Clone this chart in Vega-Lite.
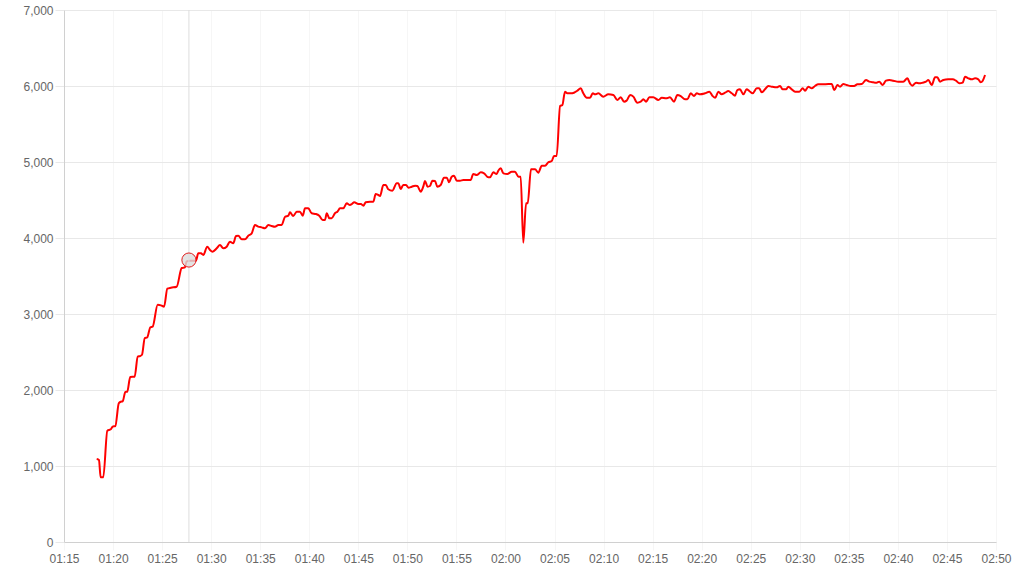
{
  "$schema": "https://vega.github.io/schema/vega-lite/v6.json",
  "width": 932,
  "height": 532,
  "autosize": {"type": "none"},
  "padding": {"left": 64, "top": 10, "right": 19, "bottom": 29},
  "background": "#ffffff",
  "config": {
    "view": {"stroke": null},
    "font": "Liberation Sans",
    "axis": {
      "labelFont": "Liberation Sans",
      "labelFontSize": 12,
      "labelColor": "#666666",
      "gridColor": "#e8e8e8",
      "tickColor": "#e8e8e8",
      "domainColor": "#d0d0d0",
      "title": null
    }
  },
  "datasets": {
    "series": [
      {"t": "2024-01-01T01:18:20", "v": 1092},
      {"t": "2024-01-01T01:18:34", "v": 1079},
      {"t": "2024-01-01T01:18:44", "v": 851},
      {"t": "2024-01-01T01:19:00", "v": 851},
      {"t": "2024-01-01T01:19:25", "v": 1465},
      {"t": "2024-01-01T01:19:46", "v": 1483},
      {"t": "2024-01-01T01:19:58", "v": 1517},
      {"t": "2024-01-01T01:20:14", "v": 1526},
      {"t": "2024-01-01T01:20:35", "v": 1825},
      {"t": "2024-01-01T01:20:47", "v": 1846},
      {"t": "2024-01-01T01:20:59", "v": 1851},
      {"t": "2024-01-01T01:21:15", "v": 1974},
      {"t": "2024-01-01T01:21:27", "v": 1978},
      {"t": "2024-01-01T01:21:45", "v": 2171},
      {"t": "2024-01-01T01:22:12", "v": 2175},
      {"t": "2024-01-01T01:22:31", "v": 2438},
      {"t": "2024-01-01T01:22:45", "v": 2447},
      {"t": "2024-01-01T01:22:57", "v": 2464},
      {"t": "2024-01-01T01:23:14", "v": 2684},
      {"t": "2024-01-01T01:23:29", "v": 2693},
      {"t": "2024-01-01T01:23:48", "v": 2825},
      {"t": "2024-01-01T01:24:02", "v": 2833},
      {"t": "2024-01-01T01:24:33", "v": 3122},
      {"t": "2024-01-01T01:24:53", "v": 3114},
      {"t": "2024-01-01T01:25:12", "v": 3096},
      {"t": "2024-01-01T01:25:32", "v": 3333},
      {"t": "2024-01-01T01:25:54", "v": 3346},
      {"t": "2024-01-01T01:26:29", "v": 3359},
      {"t": "2024-01-01T01:27:00", "v": 3605},
      {"t": "2024-01-01T01:27:20", "v": 3614},
      {"t": "2024-01-01T01:27:30", "v": 3693},
      {"t": "2024-01-01T01:27:51", "v": 3701},
      {"t": "2024-01-01T01:28:27", "v": 3701},
      {"t": "2024-01-01T01:28:41", "v": 3798},
      {"t": "2024-01-01T01:28:58", "v": 3798},
      {"t": "2024-01-01T01:29:12", "v": 3776},
      {"t": "2024-01-01T01:29:36", "v": 3886},
      {"t": "2024-01-01T01:29:53", "v": 3842},
      {"t": "2024-01-01T01:30:09", "v": 3820},
      {"t": "2024-01-01T01:30:34", "v": 3864},
      {"t": "2024-01-01T01:30:54", "v": 3908},
      {"t": "2024-01-01T01:31:14", "v": 3864},
      {"t": "2024-01-01T01:31:35", "v": 3886},
      {"t": "2024-01-01T01:31:55", "v": 3952},
      {"t": "2024-01-01T01:32:15", "v": 3930},
      {"t": "2024-01-01T01:32:32", "v": 4026},
      {"t": "2024-01-01T01:32:46", "v": 4030},
      {"t": "2024-01-01T01:33:07", "v": 3983},
      {"t": "2024-01-01T01:33:27", "v": 3983},
      {"t": "2024-01-01T01:33:47", "v": 4030},
      {"t": "2024-01-01T01:34:08", "v": 4061},
      {"t": "2024-01-01T01:34:28", "v": 4171},
      {"t": "2024-01-01T01:34:48", "v": 4149},
      {"t": "2024-01-01T01:35:09", "v": 4140},
      {"t": "2024-01-01T01:35:29", "v": 4127},
      {"t": "2024-01-01T01:35:50", "v": 4171},
      {"t": "2024-01-01T01:36:10", "v": 4158},
      {"t": "2024-01-01T01:36:30", "v": 4149},
      {"t": "2024-01-01T01:36:51", "v": 4171},
      {"t": "2024-01-01T01:37:11", "v": 4171},
      {"t": "2024-01-01T01:37:32", "v": 4280},
      {"t": "2024-01-01T01:37:52", "v": 4294},
      {"t": "2024-01-01T01:38:02", "v": 4338},
      {"t": "2024-01-01T01:38:22", "v": 4289},
      {"t": "2024-01-01T01:38:43", "v": 4346},
      {"t": "2024-01-01T01:39:03", "v": 4346},
      {"t": "2024-01-01T01:39:20", "v": 4294},
      {"t": "2024-01-01T01:39:34", "v": 4390},
      {"t": "2024-01-01T01:39:54", "v": 4390},
      {"t": "2024-01-01T01:40:15", "v": 4325},
      {"t": "2024-01-01T01:40:41", "v": 4316},
      {"t": "2024-01-01T01:41:01", "v": 4294},
      {"t": "2024-01-01T01:41:22", "v": 4237},
      {"t": "2024-01-01T01:41:36", "v": 4237},
      {"t": "2024-01-01T01:41:47", "v": 4325},
      {"t": "2024-01-01T01:42:03", "v": 4259},
      {"t": "2024-01-01T01:42:17", "v": 4259},
      {"t": "2024-01-01T01:42:37", "v": 4325},
      {"t": "2024-01-01T01:42:52", "v": 4346},
      {"t": "2024-01-01T01:43:08", "v": 4390},
      {"t": "2024-01-01T01:43:28", "v": 4390},
      {"t": "2024-01-01T01:43:49", "v": 4456},
      {"t": "2024-01-01T01:44:09", "v": 4434},
      {"t": "2024-01-01T01:44:20", "v": 4447},
      {"t": "2024-01-01T01:44:35", "v": 4470},
      {"t": "2024-01-01T01:45:00", "v": 4447},
      {"t": "2024-01-01T01:45:16", "v": 4447},
      {"t": "2024-01-01T01:45:31", "v": 4425},
      {"t": "2024-01-01T01:45:45", "v": 4470},
      {"t": "2024-01-01T01:46:11", "v": 4478},
      {"t": "2024-01-01T01:46:32", "v": 4478},
      {"t": "2024-01-01T01:46:46", "v": 4579},
      {"t": "2024-01-01T01:47:02", "v": 4566},
      {"t": "2024-01-01T01:47:13", "v": 4553},
      {"t": "2024-01-01T01:47:33", "v": 4697},
      {"t": "2024-01-01T01:47:48", "v": 4697},
      {"t": "2024-01-01T01:48:03", "v": 4641},
      {"t": "2024-01-01T01:48:28", "v": 4623},
      {"t": "2024-01-01T01:48:55", "v": 4720},
      {"t": "2024-01-01T01:49:05", "v": 4720},
      {"t": "2024-01-01T01:49:19", "v": 4645},
      {"t": "2024-01-01T01:49:35", "v": 4697},
      {"t": "2024-01-01T01:49:52", "v": 4697},
      {"t": "2024-01-01T01:50:06", "v": 4662},
      {"t": "2024-01-01T01:50:27", "v": 4675},
      {"t": "2024-01-01T01:50:47", "v": 4688},
      {"t": "2024-01-01T01:51:01", "v": 4684},
      {"t": "2024-01-01T01:51:22", "v": 4610},
      {"t": "2024-01-01T01:51:37", "v": 4675},
      {"t": "2024-01-01T01:51:48", "v": 4750},
      {"t": "2024-01-01T01:52:04", "v": 4675},
      {"t": "2024-01-01T01:52:18", "v": 4684},
      {"t": "2024-01-01T01:52:33", "v": 4754},
      {"t": "2024-01-01T01:52:49", "v": 4750},
      {"t": "2024-01-01T01:53:03", "v": 4675},
      {"t": "2024-01-01T01:53:24", "v": 4697},
      {"t": "2024-01-01T01:53:44", "v": 4794},
      {"t": "2024-01-01T01:54:01", "v": 4794},
      {"t": "2024-01-01T01:54:15", "v": 4733},
      {"t": "2024-01-01T01:54:31", "v": 4807},
      {"t": "2024-01-01T01:54:45", "v": 4820},
      {"t": "2024-01-01T01:55:02", "v": 4754},
      {"t": "2024-01-01T01:55:22", "v": 4754},
      {"t": "2024-01-01T01:55:42", "v": 4763},
      {"t": "2024-01-01T01:56:03", "v": 4763},
      {"t": "2024-01-01T01:56:27", "v": 4763},
      {"t": "2024-01-01T01:56:43", "v": 4842},
      {"t": "2024-01-01T01:57:04", "v": 4829},
      {"t": "2024-01-01T01:57:29", "v": 4864},
      {"t": "2024-01-01T01:57:49", "v": 4851},
      {"t": "2024-01-01T01:58:15", "v": 4798},
      {"t": "2024-01-01T01:58:25", "v": 4798},
      {"t": "2024-01-01T01:58:46", "v": 4864},
      {"t": "2024-01-01T01:59:06", "v": 4842},
      {"t": "2024-01-01T01:59:16", "v": 4886},
      {"t": "2024-01-01T01:59:31", "v": 4917},
      {"t": "2024-01-01T01:59:47", "v": 4851},
      {"t": "2024-01-01T02:00:11", "v": 4842},
      {"t": "2024-01-01T02:00:38", "v": 4872},
      {"t": "2024-01-01T02:00:58", "v": 4872},
      {"t": "2024-01-01T02:01:19", "v": 4807},
      {"t": "2024-01-01T02:01:33", "v": 4807},
      {"t": "2024-01-01T02:01:49", "v": 3938},
      {"t": "2024-01-01T02:02:06", "v": 4456},
      {"t": "2024-01-01T02:02:16", "v": 4456},
      {"t": "2024-01-01T02:02:36", "v": 4904},
      {"t": "2024-01-01T02:03:01", "v": 4904},
      {"t": "2024-01-01T02:03:21", "v": 4860},
      {"t": "2024-01-01T02:03:42", "v": 4951},
      {"t": "2024-01-01T02:04:02", "v": 4951},
      {"t": "2024-01-01T02:04:22", "v": 4996},
      {"t": "2024-01-01T02:04:43", "v": 5013},
      {"t": "2024-01-01T02:04:57", "v": 5079},
      {"t": "2024-01-01T02:05:13", "v": 5079},
      {"t": "2024-01-01T02:05:34", "v": 5737},
      {"t": "2024-01-01T02:05:48", "v": 5750},
      {"t": "2024-01-01T02:06:04", "v": 5925},
      {"t": "2024-01-01T02:06:18", "v": 5904},
      {"t": "2024-01-01T02:06:39", "v": 5904},
      {"t": "2024-01-01T02:06:59", "v": 5912},
      {"t": "2024-01-01T02:07:19", "v": 5938},
      {"t": "2024-01-01T02:07:40", "v": 5970},
      {"t": "2024-01-01T02:07:56", "v": 5904},
      {"t": "2024-01-01T02:08:17", "v": 5846},
      {"t": "2024-01-01T02:08:37", "v": 5846},
      {"t": "2024-01-01T02:08:54", "v": 5904},
      {"t": "2024-01-01T02:09:08", "v": 5891},
      {"t": "2024-01-01T02:09:28", "v": 5904},
      {"t": "2024-01-01T02:09:58", "v": 5860},
      {"t": "2024-01-01T02:10:29", "v": 5891},
      {"t": "2024-01-01T02:11:00", "v": 5882},
      {"t": "2024-01-01T02:11:24", "v": 5816},
      {"t": "2024-01-01T02:11:45", "v": 5851},
      {"t": "2024-01-01T02:12:05", "v": 5794},
      {"t": "2024-01-01T02:12:21", "v": 5807},
      {"t": "2024-01-01T02:12:42", "v": 5882},
      {"t": "2024-01-01T02:13:02", "v": 5860},
      {"t": "2024-01-01T02:13:26", "v": 5781},
      {"t": "2024-01-01T02:13:47", "v": 5794},
      {"t": "2024-01-01T02:14:03", "v": 5825},
      {"t": "2024-01-01T02:14:20", "v": 5794},
      {"t": "2024-01-01T02:14:40", "v": 5851},
      {"t": "2024-01-01T02:15:04", "v": 5851},
      {"t": "2024-01-01T02:15:35", "v": 5816},
      {"t": "2024-01-01T02:15:56", "v": 5846},
      {"t": "2024-01-01T02:16:22", "v": 5838},
      {"t": "2024-01-01T02:16:46", "v": 5851},
      {"t": "2024-01-01T02:17:11", "v": 5794},
      {"t": "2024-01-01T02:17:31", "v": 5882},
      {"t": "2024-01-01T02:17:52", "v": 5868},
      {"t": "2024-01-01T02:18:18", "v": 5825},
      {"t": "2024-01-01T02:18:32", "v": 5825},
      {"t": "2024-01-01T02:18:53", "v": 5904},
      {"t": "2024-01-01T02:19:13", "v": 5868},
      {"t": "2024-01-01T02:19:30", "v": 5904},
      {"t": "2024-01-01T02:19:50", "v": 5891},
      {"t": "2024-01-01T02:20:20", "v": 5904},
      {"t": "2024-01-01T02:20:47", "v": 5925},
      {"t": "2024-01-01T02:21:07", "v": 5868},
      {"t": "2024-01-01T02:21:23", "v": 5846},
      {"t": "2024-01-01T02:21:42", "v": 5925},
      {"t": "2024-01-01T02:22:02", "v": 5891},
      {"t": "2024-01-01T02:22:23", "v": 5912},
      {"t": "2024-01-01T02:22:43", "v": 5934},
      {"t": "2024-01-01T02:23:04", "v": 5904},
      {"t": "2024-01-01T02:23:24", "v": 5873},
      {"t": "2024-01-01T02:23:38", "v": 5947},
      {"t": "2024-01-01T02:23:54", "v": 5956},
      {"t": "2024-01-01T02:24:15", "v": 5891},
      {"t": "2024-01-01T02:24:35", "v": 5956},
      {"t": "2024-01-01T02:24:51", "v": 5934},
      {"t": "2024-01-01T02:25:12", "v": 5904},
      {"t": "2024-01-01T02:25:37", "v": 5970},
      {"t": "2024-01-01T02:25:52", "v": 5970},
      {"t": "2024-01-01T02:26:07", "v": 5917},
      {"t": "2024-01-01T02:26:27", "v": 5956},
      {"t": "2024-01-01T02:26:48", "v": 6000},
      {"t": "2024-01-01T02:27:08", "v": 5991},
      {"t": "2024-01-01T02:27:39", "v": 5982},
      {"t": "2024-01-01T02:27:59", "v": 6000},
      {"t": "2024-01-01T02:28:16", "v": 5956},
      {"t": "2024-01-01T02:28:36", "v": 5956},
      {"t": "2024-01-01T02:28:50", "v": 5991},
      {"t": "2024-01-01T02:29:11", "v": 5956},
      {"t": "2024-01-01T02:29:31", "v": 5925},
      {"t": "2024-01-01T02:29:57", "v": 5925},
      {"t": "2024-01-01T02:30:18", "v": 5970},
      {"t": "2024-01-01T02:30:32", "v": 5938},
      {"t": "2024-01-01T02:30:52", "v": 5991},
      {"t": "2024-01-01T02:31:13", "v": 5970},
      {"t": "2024-01-01T02:31:33", "v": 6000},
      {"t": "2024-01-01T02:31:53", "v": 6022},
      {"t": "2024-01-01T02:32:20", "v": 6022},
      {"t": "2024-01-01T02:32:55", "v": 6026},
      {"t": "2024-01-01T02:33:15", "v": 6026},
      {"t": "2024-01-01T02:33:31", "v": 5947},
      {"t": "2024-01-01T02:33:50", "v": 6013},
      {"t": "2024-01-01T02:34:06", "v": 5991},
      {"t": "2024-01-01T02:34:26", "v": 6026},
      {"t": "2024-01-01T02:34:47", "v": 6013},
      {"t": "2024-01-01T02:35:11", "v": 6000},
      {"t": "2024-01-01T02:35:32", "v": 6000},
      {"t": "2024-01-01T02:35:52", "v": 6022},
      {"t": "2024-01-01T02:36:19", "v": 6026},
      {"t": "2024-01-01T02:36:45", "v": 6079},
      {"t": "2024-01-01T02:37:05", "v": 6057},
      {"t": "2024-01-01T02:37:30", "v": 6048},
      {"t": "2024-01-01T02:37:50", "v": 6044},
      {"t": "2024-01-01T02:38:06", "v": 6057},
      {"t": "2024-01-01T02:38:27", "v": 6013},
      {"t": "2024-01-01T02:38:47", "v": 6070},
      {"t": "2024-01-01T02:39:08", "v": 6079},
      {"t": "2024-01-01T02:39:32", "v": 6070},
      {"t": "2024-01-01T02:40:03", "v": 6057},
      {"t": "2024-01-01T02:40:33", "v": 6057},
      {"t": "2024-01-01T02:40:58", "v": 6101},
      {"t": "2024-01-01T02:41:14", "v": 6035},
      {"t": "2024-01-01T02:41:28", "v": 6004},
      {"t": "2024-01-01T02:41:51", "v": 6044},
      {"t": "2024-01-01T02:42:11", "v": 6035},
      {"t": "2024-01-01T02:42:32", "v": 6044},
      {"t": "2024-01-01T02:42:52", "v": 6057},
      {"t": "2024-01-01T02:43:06", "v": 6079},
      {"t": "2024-01-01T02:43:27", "v": 6013},
      {"t": "2024-01-01T02:43:47", "v": 6114},
      {"t": "2024-01-01T02:44:01", "v": 6114},
      {"t": "2024-01-01T02:44:18", "v": 6057},
      {"t": "2024-01-01T02:44:38", "v": 6079},
      {"t": "2024-01-01T02:45:08", "v": 6088},
      {"t": "2024-01-01T02:45:35", "v": 6088},
      {"t": "2024-01-01T02:45:55", "v": 6070},
      {"t": "2024-01-01T02:46:16", "v": 6035},
      {"t": "2024-01-01T02:46:36", "v": 6044},
      {"t": "2024-01-01T02:46:51", "v": 6123},
      {"t": "2024-01-01T02:47:11", "v": 6101},
      {"t": "2024-01-01T02:47:31", "v": 6088},
      {"t": "2024-01-01T02:47:52", "v": 6101},
      {"t": "2024-01-01T02:48:12", "v": 6088},
      {"t": "2024-01-01T02:48:26", "v": 6048},
      {"t": "2024-01-01T02:48:39", "v": 6070},
      {"t": "2024-01-01T02:48:53", "v": 6145}
    ],
    "hover": [
      {"t": "2024-01-01T01:27:44", "v": 3710}
    ]
  },
  "layer": [
    {
      "data": {"name": "series"},
      "mark": {"type": "line", "color": "#ff0000", "strokeWidth": 2, "interpolate": "monotone"},
      "encoding": {
        "x": {
          "field": "t",
          "type": "temporal",
          "scale": {
            "domain": [
              {"year": 2024, "month": 1, "date": 1, "hours": 1, "minutes": 15},
              {"year": 2024, "month": 1, "date": 1, "hours": 2, "minutes": 50}
            ],
            "nice": false
          },
          "axis": {
            "format": "%H:%M",
            "values": [
              {"year": 2024, "month": 1, "date": 1, "hours": 1, "minutes": 15},
              {"year": 2024, "month": 1, "date": 1, "hours": 1, "minutes": 20},
              {"year": 2024, "month": 1, "date": 1, "hours": 1, "minutes": 25},
              {"year": 2024, "month": 1, "date": 1, "hours": 1, "minutes": 30},
              {"year": 2024, "month": 1, "date": 1, "hours": 1, "minutes": 35},
              {"year": 2024, "month": 1, "date": 1, "hours": 1, "minutes": 40},
              {"year": 2024, "month": 1, "date": 1, "hours": 1, "minutes": 45},
              {"year": 2024, "month": 1, "date": 1, "hours": 1, "minutes": 50},
              {"year": 2024, "month": 1, "date": 1, "hours": 1, "minutes": 55},
              {"year": 2024, "month": 1, "date": 1, "hours": 2, "minutes": 0},
              {"year": 2024, "month": 1, "date": 1, "hours": 2, "minutes": 5},
              {"year": 2024, "month": 1, "date": 1, "hours": 2, "minutes": 10},
              {"year": 2024, "month": 1, "date": 1, "hours": 2, "minutes": 15},
              {"year": 2024, "month": 1, "date": 1, "hours": 2, "minutes": 20},
              {"year": 2024, "month": 1, "date": 1, "hours": 2, "minutes": 25},
              {"year": 2024, "month": 1, "date": 1, "hours": 2, "minutes": 30},
              {"year": 2024, "month": 1, "date": 1, "hours": 2, "minutes": 35},
              {"year": 2024, "month": 1, "date": 1, "hours": 2, "minutes": 40},
              {"year": 2024, "month": 1, "date": 1, "hours": 2, "minutes": 45},
              {"year": 2024, "month": 1, "date": 1, "hours": 2, "minutes": 50}
            ],
            "gridColor": "#f6f6f6",
            "tickColor": "#f6f6f6",
            "tickSize": 8,
            "labelPadding": 3,
            "labelFlush": false,
            "labelOverlap": false
          }
        },
        "y": {
          "field": "v",
          "type": "quantitative",
          "scale": {"domain": [0, 7000], "nice": false},
          "axis": {
            "values": [0, 1000, 2000, 3000, 4000, 5000, 6000, 7000],
            "format": ",.0f",
            "tickSize": 9,
            "labelPadding": 2
          }
        }
      }
    },
    {
      "data": {"name": "hover"},
      "mark": {"type": "rule", "color": "#dddddd", "strokeWidth": 1},
      "encoding": {
        "x": {"field": "t", "type": "temporal"}
      }
    },
    {
      "data": {"name": "hover"},
      "mark": {"type": "point", "shape": "circle", "fill": "#dcdcdc", "fillOpacity": 0.8, "stroke": "#e02020", "strokeOpacity": 1, "strokeWidth": 1, "size": 200},
      "encoding": {
        "x": {"field": "t", "type": "temporal"},
        "y": {"field": "v", "type": "quantitative"}
      }
    }
  ]
}
